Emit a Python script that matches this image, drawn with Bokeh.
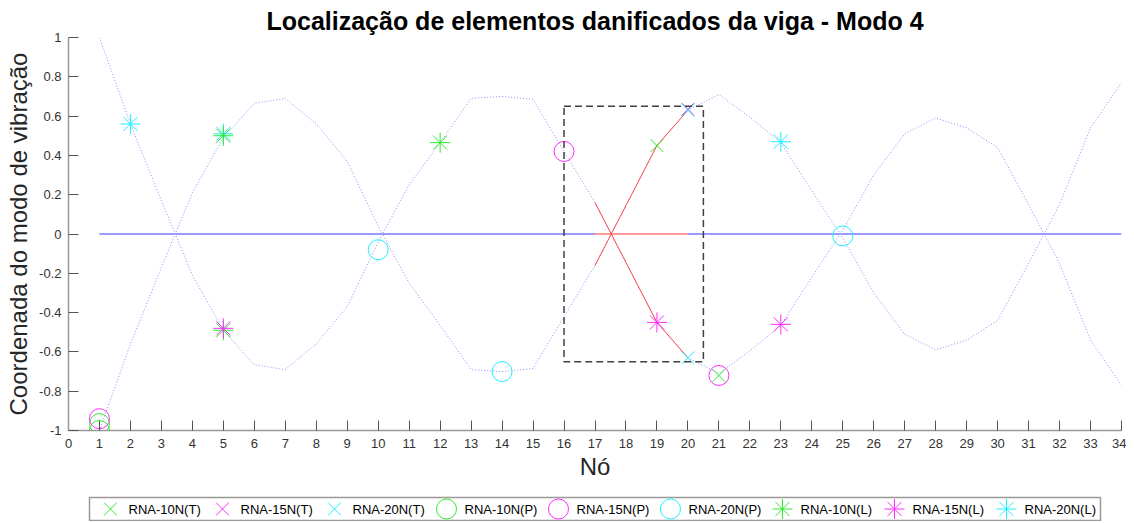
from bokeh.plotting import figure
from bokeh.layouts import column
from bokeh.models import Range1d, FixedTicker, BoxAnnotation
from bokeh.core.properties import value
from bokeh.embed import file_html
from bokeh.resources import INLINE

# ---- data ----
nodes = list(range(1, 35))
mode_pos = [1.0, 0.56, 0.17, -0.21, -0.49, -0.665, -0.69, -0.56, -0.37, -0.04,
            0.25, 0.465, 0.69, 0.70, 0.685, 0.42, 0.16, -0.145, -0.45, -0.63,
            -0.71, -0.595, -0.465, -0.22, 0.02, 0.30, 0.51, 0.59, 0.54, 0.44,
            0.15, -0.15, -0.54, -0.77]
mode_neg = [-1.0, -0.56, -0.17, 0.21, 0.49, 0.665, 0.69, 0.56, 0.37, 0.04,
            -0.25, -0.465, -0.69, -0.70, -0.685, -0.42, -0.16, 0.145, 0.45, 0.63,
            0.71, 0.595, 0.465, 0.22, -0.02, -0.30, -0.51, -0.59, -0.54, -0.44,
            -0.15, 0.15, 0.54, 0.77]
zero_x = [1, 34]
zero_y = [0, 0]

dmg_nodes = [17, 18, 19, 20]
dmg_pos = [0.16, -0.145, -0.45, -0.63]
dmg_neg = [-0.16, 0.145, 0.45, 0.63]
dmg_zero_x = [17, 20]
dmg_zero_y = [0, 0]

region_x = [16, 20.5]
region_y = [-0.65, 0.65]

t10_x, t10_y = [19, 21], [0.45, -0.72]
t15_x, t15_y = [20], [0.635]
t20_x, t20_y = [20, 20], [0.63, -0.63]
p10_x, p10_y = [1, 1], [-0.965, -1.0]
p15_x, p15_y = [1, 16, 21], [-0.94, 0.42, -0.72]
p20_x, p20_y = [10, 14, 25], [-0.08, -0.70, -0.01]
l20_x, l20_y = [2, 5, 23], [0.56, 0.51, 0.47]
l10_x, l10_y = [5, 5, 12], [0.50, -0.49, 0.465]
l15_x, l15_y = [5, 19, 23], [-0.48, -0.45, -0.46]

series_labels = ["RNA-10N(T)", "RNA-15N(T)", "RNA-20N(T)",
                 "RNA-10N(P)", "RNA-15N(P)", "RNA-20N(P)",
                 "RNA-10N(L)", "RNA-15N(L)", "RNA-20N(L)"]

x_ticks = list(range(0, 35))
y_ticks = [-1, -0.8, -0.6, -0.4, -0.2, 0, 0.2, 0.4, 0.6, 0.8, 1]
y_tick_labels = ["-1", "-0.8", "-0.6", "-0.4", "-0.2", "0", "0.2", "0.4", "0.6", "0.8", "1"]

# ---- styling ----
GREEN = "#2ee82e"
MAGENTA = "#ff2bff"
CYAN = "#1ef0ff"
FONT = "Liberation Sans"
W = 1126
MAIN_H = 482
LEG_H = 39
BORDER_L = 68
BORDER_R = 5

p = figure(width=W, height=MAIN_H, output_backend="svg", toolbar_location=None,
           x_range=Range1d(0, 34), y_range=Range1d(-1, 1),
           title="Localização de elementos danificados da viga - Modo 4",
           min_border_left=BORDER_L, min_border_right=BORDER_R, min_border_top=37, min_border_bottom=5)
p.outline_line_color = None
p.xgrid.visible = False
p.ygrid.visible = False
p.background_fill_color = "white"
p.border_fill_color = "white"

p.title.align = "center"
p.title.text_font = FONT
p.title.text_font_size = "25px"
p.title.text_font_style = "bold"
p.title.text_color = "black"
p.title.standoff = 5
p.title.offset = 0

for ax in (p.xaxis[0], p.yaxis[0]):
    ax.major_tick_in = 10
    ax.major_tick_out = 0
    ax.minor_tick_in = 0
    ax.minor_tick_out = 0
    ax.axis_line_color = "#999999"
    ax.axis_line_width = 1.5
    ax.major_tick_line_color = "#555555"
    ax.major_tick_line_width = 1
    ax.major_label_text_font = FONT
    ax.major_label_text_font_size = "13px"
    ax.major_label_text_color = "#333333"
    ax.axis_label_text_font = FONT
    ax.axis_label_text_font_size = "24px"
    ax.axis_label_text_font_style = "normal"
    ax.axis_label_text_color = "#262626"

p.xaxis[0].ticker = FixedTicker(ticks=x_ticks)
p.xaxis[0].axis_label = "Nó"
p.xaxis[0].major_label_standoff = 8
p.xaxis[0].axis_label_standoff = 2
p.yaxis[0].ticker = FixedTicker(ticks=y_ticks)
p.yaxis[0].major_label_overrides = {t: s for t, s in zip(y_ticks, y_tick_labels)}
p.yaxis[0].axis_label = "Coordenada do modo de vibração"
p.yaxis[0].major_label_standoff = 7
p.yaxis[0].axis_label_standoff = 4

# mode shape (dotted) and reference line
p.line(nodes, mode_pos, line_color="#6f6fff", line_width=1, line_dash="1 2", line_alpha=0.8)
p.line(nodes, mode_neg, line_color="#6f6fff", line_width=1, line_dash="1 2", line_alpha=0.8)
p.line(zero_x, zero_y, line_color="#9a9aff", line_width=2)

# damaged element region
p.line(dmg_zero_x, dmg_zero_y, line_color="#ff9a9a", line_width=2)
p.line(dmg_nodes, dmg_pos, line_color="#ff4a4a", line_width=1)
p.line(dmg_nodes, dmg_neg, line_color="#ff4a4a", line_width=1)

p.add_layout(BoxAnnotation(left=region_x[0], right=region_x[1], bottom=region_y[0], top=region_y[1],
                           fill_alpha=0, line_color="#404040", line_alpha=1.0,
                           line_width=1.5, line_dash="7 4"))

# markers: (x, y, marker, size, colour) per series, in legend order
series = [
    (t10_x, t10_y, "x", 18, GREEN),
    (t15_x, t15_y, "x", 18, MAGENTA),
    (t20_x, t20_y, "x", 18, CYAN),
    (p10_x, p10_y, "circle", 20, GREEN),
    (p15_x, p15_y, "circle", 20, MAGENTA),
    (p20_x, p20_y, "circle", 20, CYAN),
    (l10_x, l10_y, "asterisk", 20, GREEN),
    (l15_x, l15_y, "asterisk", 20, MAGENTA),
    (l20_x, l20_y, "asterisk", 20, CYAN),
]
draw_order = [0, 1, 2, 3, 4, 5, 8, 6, 7]
for i in draw_order:
    xs, ys, mk, sz, col = series[i]
    p.scatter(xs, ys, marker=mk, size=sz, line_color=col, fill_alpha=0, line_width=1)

# ---- legend row (drawn as its own strip below the axes, in pixel units) ----
LEG_LEFT, LEG_RIGHT = 89, 1100
FIRST_GLYPH = 110
PITCH = 112
TEXT_GAP = 18
BOX_BOTTOM, BOX_TOP = 1, 24

leg = figure(width=W, height=LEG_H, output_backend="svg", toolbar_location=None,
             x_range=Range1d(BORDER_L, W - BORDER_R), y_range=Range1d(0, LEG_H),
             min_border_left=BORDER_L, min_border_right=BORDER_R,
             min_border_top=0, min_border_bottom=0)
leg.axis.visible = False
leg.grid.visible = False
leg.outline_line_color = None
leg.background_fill_color = "white"
leg.border_fill_color = "white"

leg.quad(left=[LEG_LEFT], right=[LEG_RIGHT], bottom=[BOX_BOTTOM], top=[BOX_TOP],
         fill_color="white", line_color="#999999", line_width=1.5)

gx = [FIRST_GLYPH + PITCH * i for i in range(len(series_labels))]
gy = [(BOX_BOTTOM + BOX_TOP) / 2] * len(series_labels)
for i, (xs, ys, mk, sz, col) in enumerate(series):
    leg.scatter([gx[i]], [gy[i]], marker=mk, size=sz, line_color=col, fill_alpha=0, line_width=1)

leg.text(x=[g + TEXT_GAP for g in gx], y=gy, text=series_labels,
         text_font=value(FONT), text_font_size="13px", text_color="black",
         text_baseline="middle", text_align="left")

layout = column(p, leg, spacing=0)
open("out.html", "w").write(file_html(layout, INLINE))
